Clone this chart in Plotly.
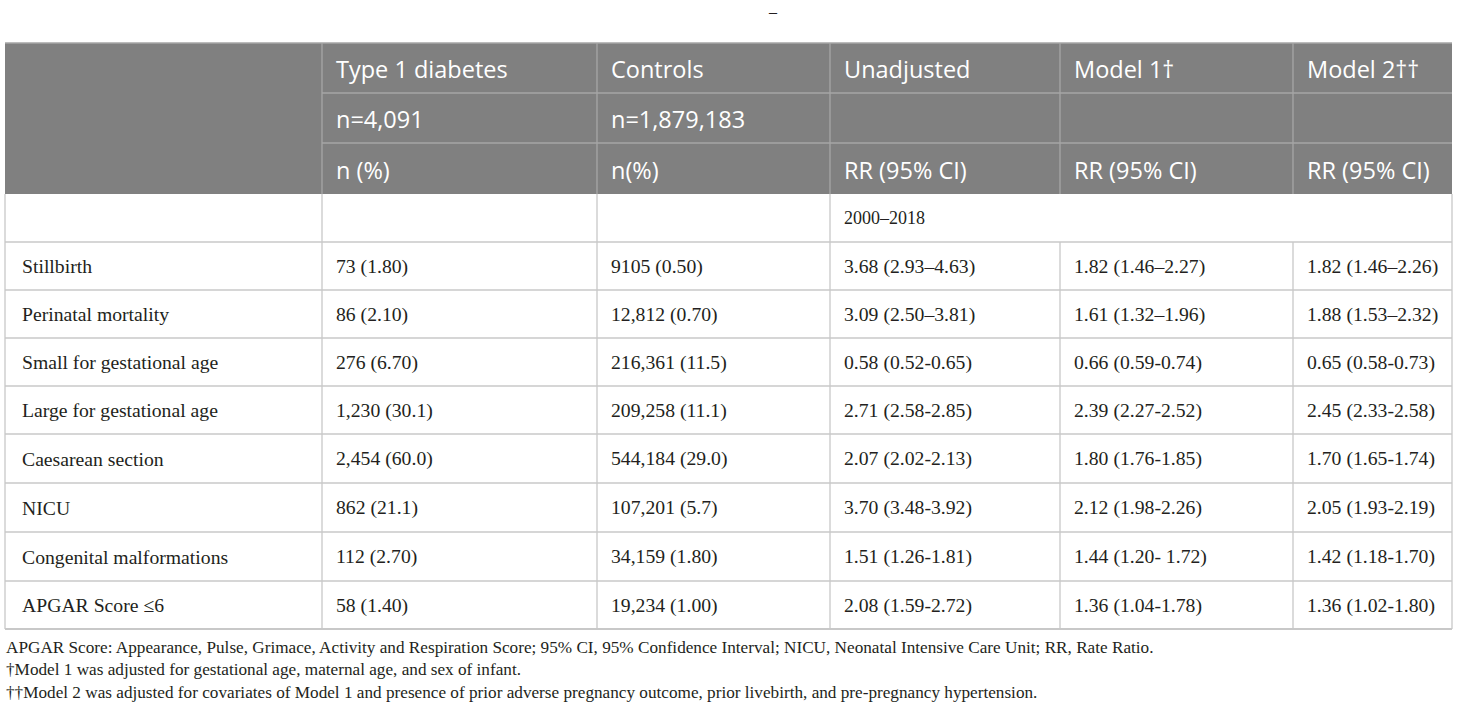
import plotly.graph_objects as go

# --- table content ---
header_row1 = ["", "Type 1 diabetes", "Controls", "Unadjusted", "Model 1†", "Model 2††"]
header_row2 = ["", "n=4,091", "n=1,879,183", "", "", ""]
header_row3 = ["", "n (%)", "n(%)", "RR (95% CI)", "RR (95% CI)", "RR (95% CI)"]
period_label = "2000–2018"

outcomes = ["Stillbirth", "Perinatal mortality", "Small for gestational age",
            "Large for gestational age", "Caesarean section", "NICU",
            "Congenital malformations", "APGAR Score ≤6"]
t1d = ["73 (1.80)", "86 (2.10)", "276 (6.70)", "1,230 (30.1)",
       "2,454 (60.0)", "862 (21.1)", "112 (2.70)", "58 (1.40)"]
controls = ["9105 (0.50)", "12,812 (0.70)", "216,361 (11.5)", "209,258 (11.1)",
            "544,184 (29.0)", "107,201 (5.7)", "34,159 (1.80)", "19,234 (1.00)"]
unadjusted = ["3.68 (2.93–4.63)", "3.09 (2.50–3.81)", "0.58 (0.52-0.65)",
              "2.71 (2.58-2.85)", "2.07 (2.02-2.13)", "3.70 (3.48-3.92)",
              "1.51 (1.26-1.81)", "2.08 (1.59-2.72)"]
model1 = ["1.82 (1.46–2.27)", "1.61 (1.32–1.96)", "0.66 (0.59-0.74)",
          "2.39 (2.27-2.52)", "1.80 (1.76-1.85)", "2.12 (1.98-2.26)",
          "1.44 (1.20- 1.72)", "1.36 (1.04-1.78)"]
model2 = ["1.82 (1.46–2.26)", "1.88 (1.53–2.32)", "0.65 (0.58-0.73)",
          "2.45 (2.33-2.58)", "1.70 (1.65-1.74)", "2.05 (1.93-2.19)",
          "1.42 (1.18-1.70)", "1.36 (1.02-1.80)"]

footnotes = [
    "APGAR Score: Appearance, Pulse, Grimace, Activity and Respiration Score; 95% CI, 95% Confidence Interval; NICU, Neonatal Intensive Care Unit; RR, Rate Ratio.",
    "†Model 1 was adjusted for gestational age, maternal age, and sex of infant.",
    "††Model 2 was adjusted for covariates of Model 1 and presence of prior adverse pregnancy outcome, prior livebirth, and pre-pregnancy hypertension.",
]

# --- layout (page pixels) ---
W, H = 1460, 716
col_edges = [5, 322, 597, 830, 1060, 1293, 1452]
head_edges = [43, 93, 143, 194]
body_edges = [194, 242, 290, 338, 386, 434, 483, 532, 581, 629]
pad = 13

head_bg = "#808080"
head_line = "#a6a6a6"
grid = "#c8c8c8"
head_font = dict(family="Open Sans", size=23.5, color="white")
body_font = dict(family="Liberation Serif", size=19.7, color="#231f20")

shapes = []
annotations = []


def line(x0, y0, x1, y1, color, width=1.3):
    shapes.append(dict(type="line", x0=x0, y0=y0, x1=x1, y1=y1, xref="x", yref="y",
                       line=dict(color=color, width=width)))


def text(x, y, s, font):
    annotations.append(dict(x=x, y=y, xref="x", yref="y", text=s, showarrow=False,
                            xanchor="left", yanchor="middle", font=font))


# header background
shapes.append(dict(type="rect", x0=col_edges[0], x1=col_edges[-1], y0=head_edges[0], y1=head_edges[-1],
                   xref="x", yref="y", fillcolor=head_bg, line=dict(width=0), layer="below"))
# header inner lines (first column merged)
for y in head_edges[1:-1]:
    line(col_edges[1], y, col_edges[-1], y, head_line)
for x in col_edges[1:-1]:
    line(x, head_edges[0], x, head_edges[-1], head_line)
line(col_edges[0], head_edges[0], col_edges[-1], head_edges[0], head_line)

# header text
for r, row in enumerate([header_row1, header_row2, header_row3]):
    yc = (head_edges[r] + head_edges[r + 1]) / 2
    for c, s in enumerate(row):
        if s:
            text(col_edges[c] + pad - 1, yc + 1, s, head_font)

# body grid
for y in body_edges[1:]:
    line(col_edges[0], y, col_edges[-1], y, grid, 2 if y == body_edges[-1] else 1.3)
line(col_edges[0], head_edges[-1], col_edges[0], body_edges[-1], grid)
line(col_edges[-1], head_edges[-1], col_edges[-1], body_edges[-1], grid)
for c in range(1, len(col_edges) - 1):
    # period row spans the three ratio columns
    y_start = body_edges[0] if c <= 3 else body_edges[1]
    line(col_edges[c], y_start, col_edges[c], body_edges[-1], grid)

text(col_edges[3] + pad - 1, (body_edges[0] + body_edges[1]) / 2, period_label,
     dict(family="Liberation Serif", size=18, color="#231f20"))

columns = [outcomes, t1d, controls, unadjusted, model1, model2]
for i in range(len(outcomes)):
    yc = (body_edges[i + 1] + body_edges[i + 2]) / 2
    for c, col in enumerate(columns):
        x0 = col_edges[c] + (15 if c == 0 else pad - 1)
        text(x0, yc, col[i], body_font)

# footnotes
for k, s in enumerate(footnotes):
    text(4, 647 + 22.5 * k, s, dict(family="Liberation Serif", size=17.2, color="#231f20"))

# small dash above table
text(766, 11, "–", dict(family="Liberation Serif", size=16, color="#231f20"))

fig = go.Figure()
fig.update_layout(
    width=W, height=H,
    margin=dict(l=0, r=0, t=0, b=0),
    paper_bgcolor="white", plot_bgcolor="white",
    xaxis=dict(range=[0, W], visible=False, fixedrange=True),
    yaxis=dict(range=[H, 0], visible=False, fixedrange=True),
    shapes=shapes, annotations=annotations,
    showlegend=False,
)
# drop the browser's default body margin so page pixels match the layout
fig.write_html("out.html", config={"displayModeBar": False},
               post_script="document.body.style.margin='0';")
